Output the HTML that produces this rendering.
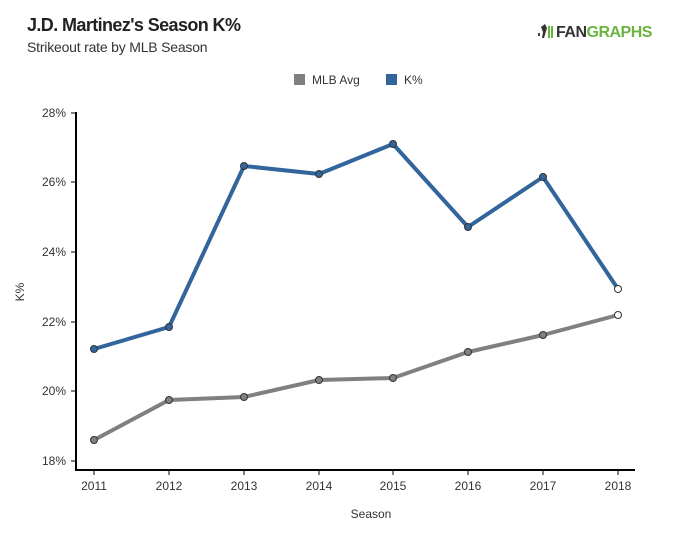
<!DOCTYPE html><html><head><style>body{margin:0;background:#fff;font-family:"Liberation Sans",sans-serif}</style></head><body>
<svg width="674" height="536" xmlns="http://www.w3.org/2000/svg" font-family="Liberation Sans, sans-serif">
<rect width="674" height="536" fill="#fff"/>
<text x="27" y="31" font-size="18" font-weight="bold" fill="#222" letter-spacing="-0.6">J.D. Martinez's Season K%</text>
<text x="27" y="52" font-size="14" fill="#333" letter-spacing="-0.2">Strikeout rate by MLB Season</text>
<g transform="translate(538,24)"><rect x="0" y="9" width="2" height="3" fill="#444"/><path d="M3 3 L7 0 L9 4 L6 14 L4 14 L5 8 Z" fill="#333"/><rect x="10" y="2" width="2" height="12" fill="#6cb33f"/><rect x="13" y="2" width="2" height="12" fill="#6cb33f"/></g>
<text x="556" y="37" font-size="16" font-weight="bold" fill="#333" letter-spacing="-0.5">FAN<tspan fill="#6cb33f">GRAPHS</tspan></text>
<rect x="294" y="74" width="11" height="11" fill="#808080"/><text x="312" y="84" font-size="12" fill="#333">MLB Avg</text>
<rect x="386" y="74" width="11" height="11" fill="#31659c"/><text x="404" y="84" font-size="12" fill="#333">K%</text>
<g font-size="12" fill="#333" text-anchor="end">
<text x="66" y="117">28%</text><text x="66" y="186">26%</text><text x="66" y="256">24%</text><text x="66" y="326">22%</text><text x="66" y="395">20%</text><text x="66" y="465">18%</text></g>
<g stroke="#000" stroke-width="1"><line x1="71" y1="113" x2="76" y2="113"/><line x1="71" y1="182" x2="76" y2="182"/><line x1="71" y1="252" x2="76" y2="252"/><line x1="71" y1="322" x2="76" y2="322"/><line x1="71" y1="391" x2="76" y2="391"/><line x1="71" y1="461" x2="76" y2="461"/>
<line x1="94" y1="470" x2="94" y2="475"/><line x1="169" y1="470" x2="169" y2="475"/><line x1="244" y1="470" x2="244" y2="475"/><line x1="319" y1="470" x2="319" y2="475"/><line x1="393" y1="470" x2="393" y2="475"/><line x1="468" y1="470" x2="468" y2="475"/><line x1="543" y1="470" x2="543" y2="475"/><line x1="618" y1="470" x2="618" y2="475"/></g>
<path d="M76 112 V470 H635" fill="none" stroke="#000" stroke-width="2"/>
<g font-size="12" fill="#333" text-anchor="middle">
<text x="94" y="490">2011</text><text x="169" y="490">2012</text><text x="244" y="490">2013</text><text x="319" y="490">2014</text><text x="393" y="490">2015</text><text x="468" y="490">2016</text><text x="543" y="490">2017</text><text x="618" y="490">2018</text>
<text x="371" y="518">Season</text>
<text transform="translate(24,292) rotate(-90)">K%</text></g>
<polyline points="94,440 169,400 244,397 319,380 393,378 468,352 543,335 618,315" fill="none" stroke="#808080" stroke-width="4" stroke-linejoin="round"/>
<polyline points="94,349 169,327 244,166 319,174 393,144 468,227 543,177 618,289" fill="none" stroke="#31659c" stroke-width="4" stroke-linejoin="round"/>
<g fill="#808080" stroke="#333" stroke-width="1"><circle cx="94" cy="440" r="3.5"/><circle cx="169" cy="400" r="3.5"/><circle cx="244" cy="397" r="3.5"/><circle cx="319" cy="380" r="3.5"/><circle cx="393" cy="378" r="3.5"/><circle cx="468" cy="352" r="3.5"/><circle cx="543" cy="335" r="3.5"/><circle cx="618" cy="315" r="3.5" fill="#fff"/></g>
<g fill="#31659c" stroke="#333" stroke-width="1"><circle cx="94" cy="349" r="3.5"/><circle cx="169" cy="327" r="3.5"/><circle cx="244" cy="166" r="3.5"/><circle cx="319" cy="174" r="3.5"/><circle cx="393" cy="144" r="3.5"/><circle cx="468" cy="227" r="3.5"/><circle cx="543" cy="177" r="3.5"/><circle cx="618" cy="289" r="3.5" fill="#fff"/></g>
</svg></body></html>
